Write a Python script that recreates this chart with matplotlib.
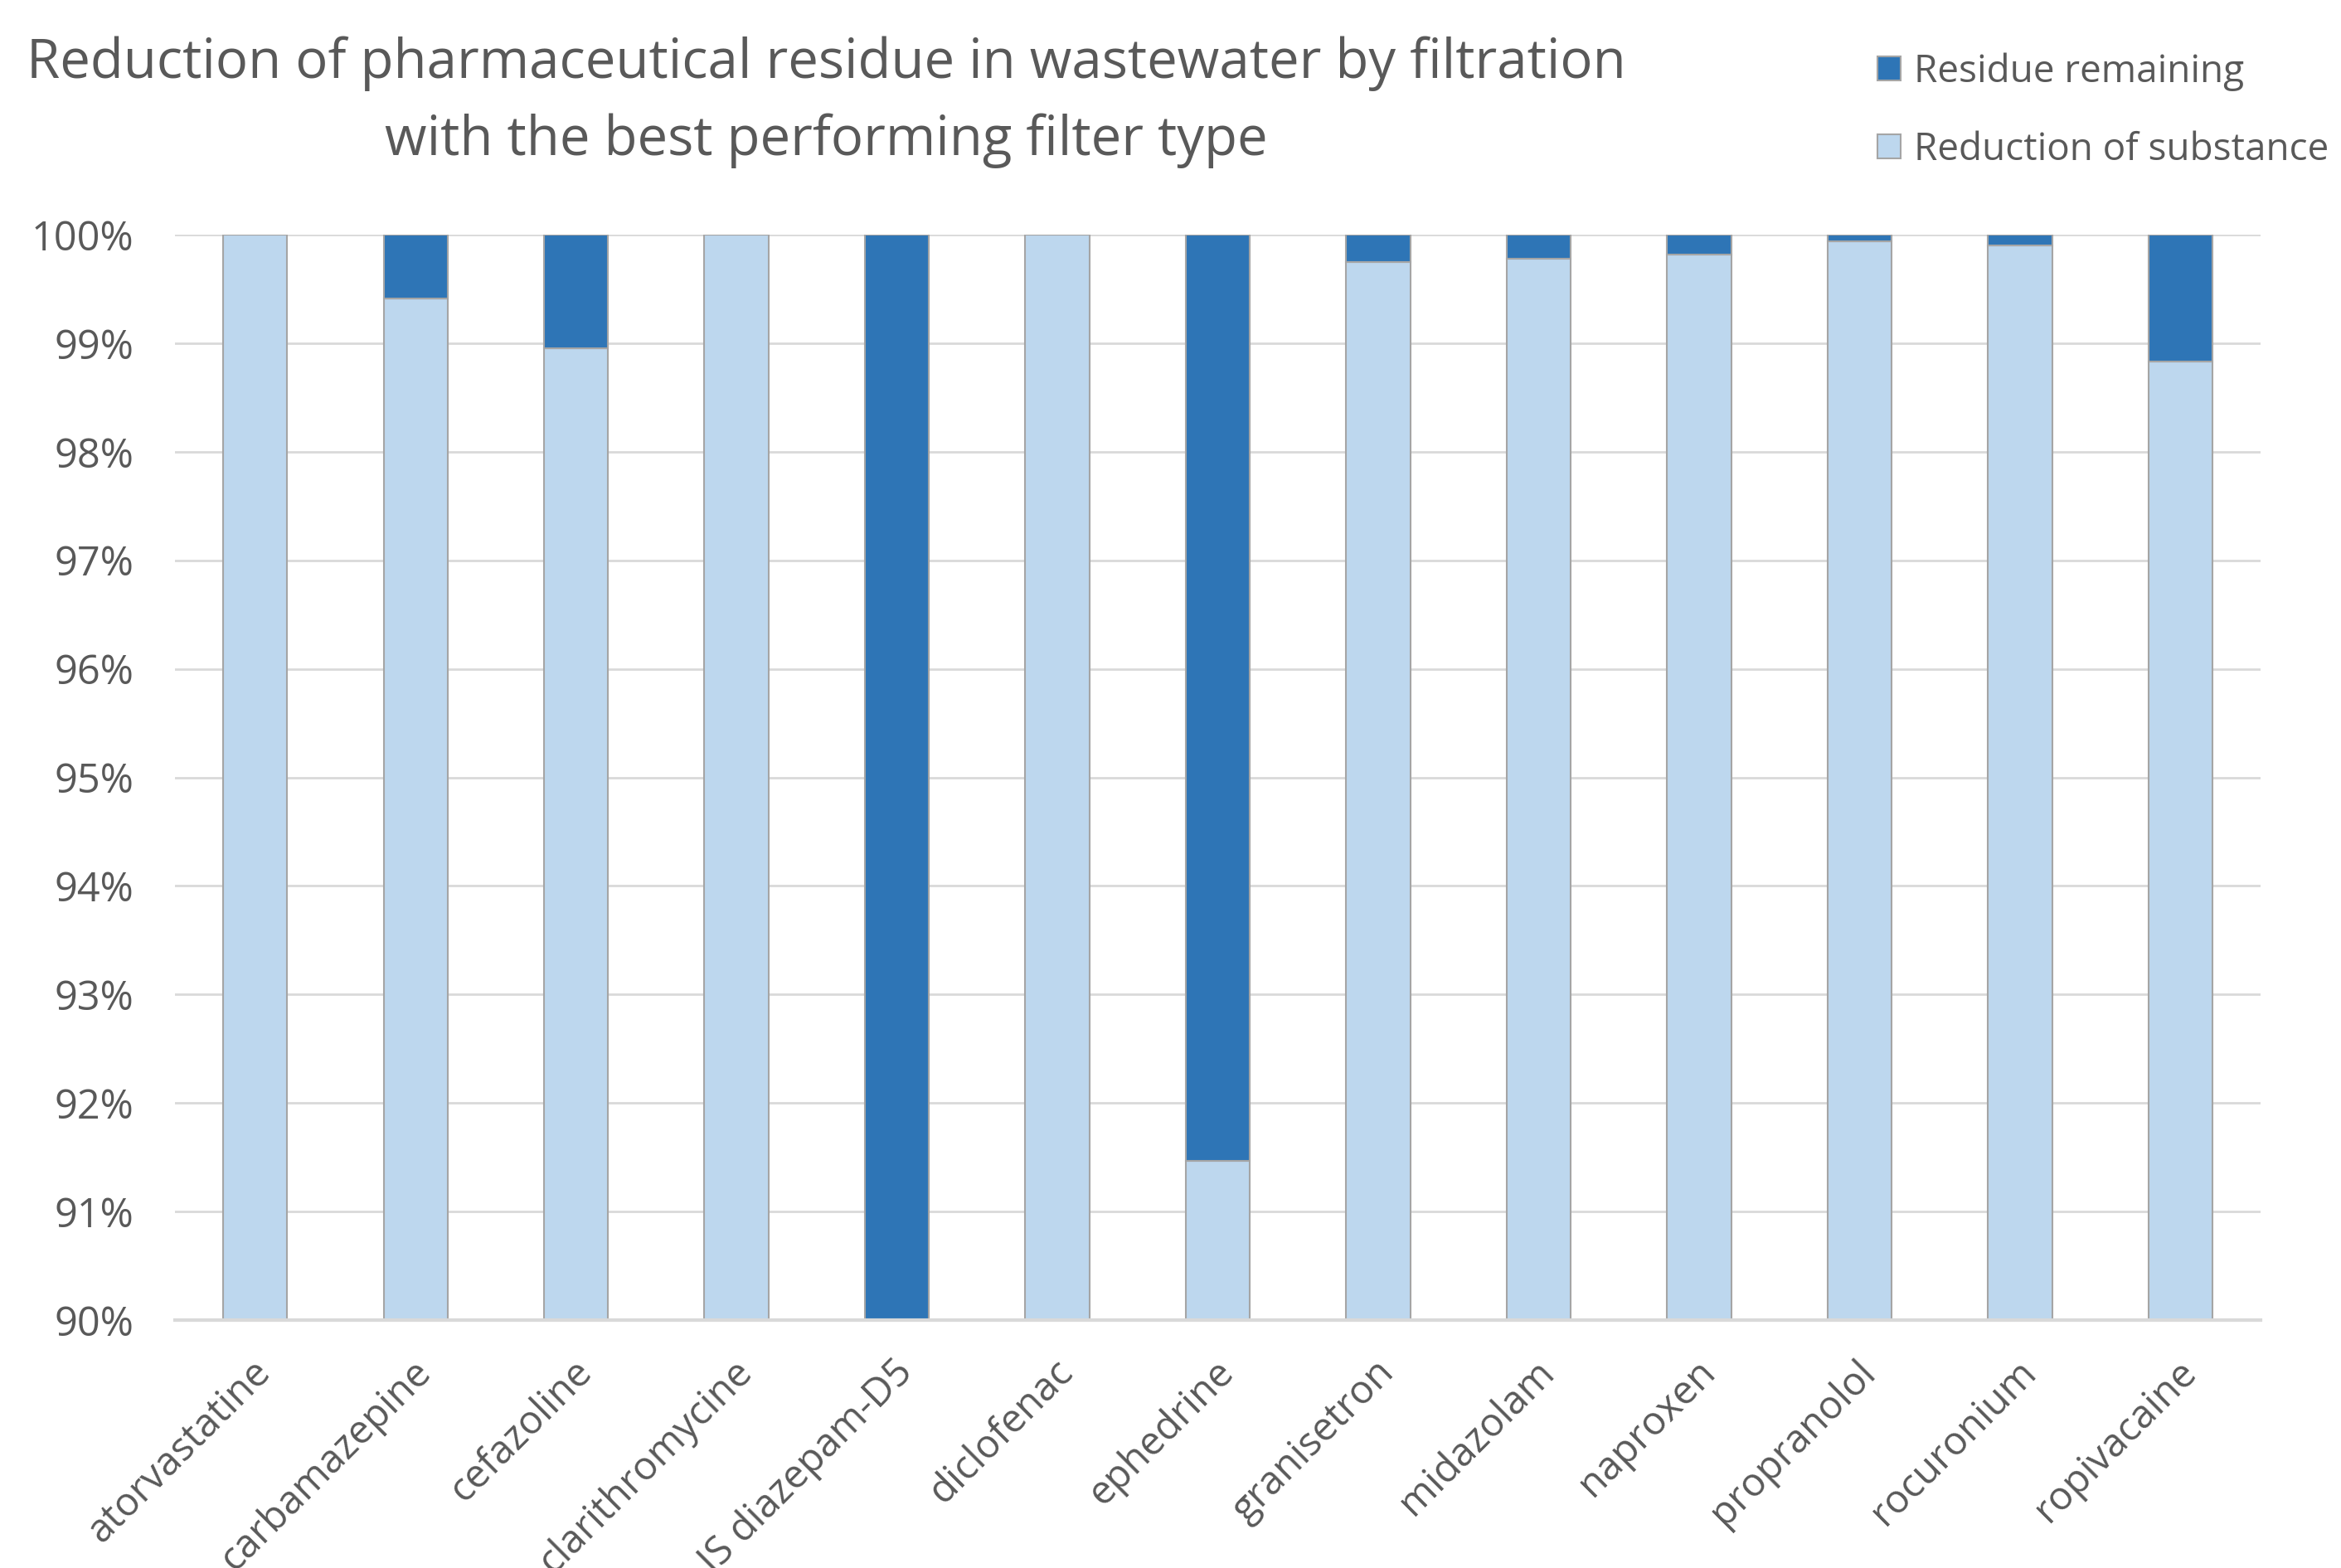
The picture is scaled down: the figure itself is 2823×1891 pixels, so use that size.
import matplotlib
matplotlib.use("Agg")
import matplotlib.pyplot as plt
from matplotlib.patches import Patch
from matplotlib.ticker import FuncFormatter
import numpy as np

plt.rcParams['font.family'] = ['Open Sans', 'DejaVu Sans']

substances = ["atorvastatine", "carbamazepine", "cefazoline", "clarithromycine",
              "IS diazepam-D5", "diclofenac", "ephedrine", "granisetron", "midazolam",
              "naproxen", "propranolol", "rocuronium", "ropivacaine"]
reduction = [100.0, 99.41, 98.95, 100.0, 0.0, 100.0, 91.47, 99.75, 99.78,
             99.82, 99.94, 99.90, 98.83]
residue = [round(100.0 - r, 4) for r in reduction]

yticks = [90, 91, 92, 93, 94, 95, 96, 97, 98, 99, 100]

DARK = "#2E75B6"
LIGHT = "#BDD7EE"
EDGE = "#A5A5A5"
TXT = "#595959"
GRID = "#D9D9D9"

W, H = 2823, 1891
fig = plt.figure(figsize=(W / 100, H / 100), dpi=100)
ax = fig.add_axes([211 / W, 1 - 1592 / H, (2726 - 211) / W, (1592 - 283) / H])

x = np.arange(len(substances))
ax.bar(x, reduction, width=0.4, color=LIGHT, edgecolor=EDGE, linewidth=1.5, zorder=2,
       label="Reduction of substance")
ax.bar(x, residue, bottom=reduction, width=0.4, color=DARK, edgecolor=EDGE, linewidth=1.5,
       zorder=2, label="Residue remaining")

ax.set_ylim(90, 100)
ax.set_xlim(-0.5, len(substances) - 0.5)
ax.set_yticks(yticks)
ax.yaxis.set_major_formatter(FuncFormatter(lambda v, p: f"{v:.0f}%"))
ax.grid(axis="y", color=GRID, linewidth=2, zorder=0)
for s in ["top", "right", "left"]:
    ax.spines[s].set_visible(False)
ax.spines["bottom"].set_color(GRID)
ax.spines["bottom"].set_linewidth(3)
ax.spines["bottom"].set_zorder(3)
ax.tick_params(axis="y", length=0, labelsize=35, labelcolor=TXT, pad=36)
ax.tick_params(axis="x", length=0, labelsize=34, labelcolor=TXT, pad=20)
ax.set_xticks(x)
ax.set_xticklabels(substances, rotation=45, ha="right", va="center", rotation_mode="anchor")
for lbl in ax.get_xticklabels():
    lbl.set_transform(lbl.get_transform() + matplotlib.transforms.ScaledTranslation(0.12, -0.28, fig.dpi_scale_trans))

fig.text(996 / W, 1 - 77 / H, "Reduction of pharmaceutical residue in wastewater by filtration",
         ha="center", va="center", fontsize=47, color=TXT)
fig.text(996 / W, 1 - 170 / H, "with the best performing filter type",
         ha="center", va="center", fontsize=47, color=TXT)

handles = [Patch(facecolor=DARK, edgecolor=EDGE, linewidth=1.5),
           Patch(facecolor=LIGHT, edgecolor=EDGE, linewidth=1.5)]
fig.legend(handles, ["Residue remaining", "Reduction of substance"],
           loc="upper left", bbox_to_anchor=(2264 / W, 1 - 63 / H), frameon=False,
           fontsize=33, labelcolor=TXT, handlelength=0.6, handleheight=0.6,
           handletextpad=0.35, labelspacing=1.05, borderaxespad=0, borderpad=0)

fig.savefig("out.png", dpi=100)
